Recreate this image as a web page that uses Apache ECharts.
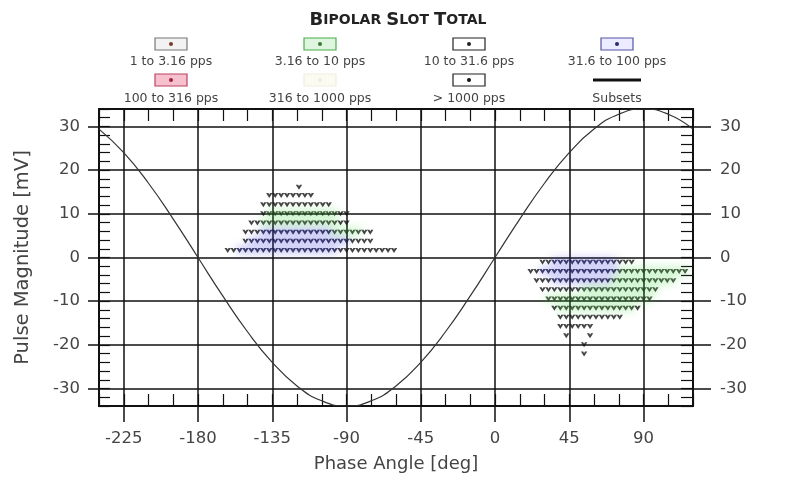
<!DOCTYPE html>
<html><head><meta charset="utf-8">
<script src="https://cdn.jsdelivr.net/npm/echarts@6/dist/echarts.min.js"></script>
<style>html,body{margin:0;padding:0;background:#fff}#c{width:796px;height:478px}</style>
</head><body><div id="c"></div>
<script>
// ---- data ----
const xTickValues = [-225, -180, -135, -90, -45, 0, 45, 90];
const yTickValues = [-30, -20, -10, 0, 10, 20, 30];
const legendNames = ['1 to 3.16 pps', '3.16 to 10 pps', '10 to 31.6 pps', '31.6 to 100 pps',
                     '100 to 316 pps', '316 to 1000 pps', '> 1000 pps', 'Subsets'];

// Subsets curve (phase deg, magnitude mV)
const subsetPhase = [-240,-225,-210,-195,-180,-165,-150,-135,-120,-105,-90,-75,-60,-45,-30,-15,0,15,30,45,60,75,90,105,120];
const subsetMag   = [29.4,24.0,17.0,8.8,0,-8.8,-17.0,-24.0,-29.4,-32.8,-34,-32.8,-29.4,-24.0,-17.0,-8.8,0,8.8,17.0,24.0,29.4,32.8,34,32.8,29.4];

// rows: [magnitude, [phases...]]
const rows10to31 = [
  [16.1, [-118.8]],
  [14.2, [-136.8,-133.2,-129.6,-126,-122.4,-118.8,-115.2,-111.6]],
  [12.1, [-140.4,-136.8,-133.2,-129.6,-126,-122.4,-118.8,-115.2,-111.6,-108,-104.4,-100.8]],
  [10.0, [-140.4,-93.6,-90]],
  [7.9,  [-147.6,-144,-93.6,-90]],
  [5.8,  [-151.2,-147.6,-144,-79.2,-75.6]],
  [3.7,  [-151.2,-86.4,-82.8,-79.2,-75.6]],
  [1.6,  [-162,-158.4,-93.6,-90,-86.4,-82.8,-79.2,-75.6,-72,-68.4,-64.8,-61.2]],
  [-1.1, [28.8,32.4,75.6,79.2,82.8]],
  [-3.2, [21.6,25.2]],
  [-5.3, [25.2,28.8,32.4]],
  [-7.4, [28.8,32.4,36,39.6,43.2,46.8,50.4]],
  [-11.6,[36,86.4]],
  [-13.7,[39.6,43.2,46.8,50.4,54,57.6,61.2,64.8,68.4,72,75.6]],
  [-15.8,[39.6,43.2,46.8,50.4,54,57.6]],
  [-17.9,[43.2,57.6]],
  [-20.0,[54]],
  [-22.1,[54]]
];
const rows3to10 = [
  [10.0, [-136.8,-133.2,-129.6,-126,-122.4,-118.8,-115.2,-111.6,-108,-104.4,-100.8,-97.2]],
  [7.9,  [-140.4,-136.8,-133.2,-129.6,-126,-122.4,-118.8,-115.2,-111.6,-108,-104.4,-100.8,-97.2]],
  [5.8,  [-97.2,-93.6,-90,-86.4,-82.8]],
  [-3.2, [75.6,79.2,82.8,86.4,90,93.6,97.2,100.8,104.4,108,111.6,115.2]],
  [-5.3, [72,75.6,79.2,82.8,86.4,90,93.6,97.2,100.8,104.4,108]],
  [-7.4, [54,57.6,61.2,64.8,68.4,72,75.6,79.2,82.8,86.4,90,93.6,97.2]],
  [-9.5, [32.4,36,39.6,43.2,46.8,50.4,54,57.6,61.2,64.8,68.4,72,75.6,79.2,82.8,86.4,90,93.6]],
  [-11.6,[39.6,43.2,46.8,50.4,54,57.6,61.2,64.8,68.4,72,75.6,79.2,82.8]]
];
const rows31to100 = [
  [5.8,  [-140.4,-136.8,-133.2,-129.6,-126,-122.4,-118.8,-115.2,-111.6,-108,-104.4,-100.8]],
  [3.7,  [-147.6,-144,-140.4,-136.8,-133.2,-129.6,-126,-122.4,-118.8,-115.2,-111.6,-108,-104.4,-100.8,-97.2,-93.6,-90]],
  [1.6,  [-154.8,-151.2,-147.6,-144,-140.4,-136.8,-133.2,-129.6,-126,-122.4,-118.8,-115.2,-111.6,-108,-104.4,-100.8,-97.2]],
  [-1.1, [36,39.6,43.2,46.8,50.4,54,57.6,61.2,64.8,68.4,72]],
  [-3.2, [28.8,32.4,36,39.6,43.2,46.8,50.4,54,57.6,61.2,64.8,68.4,72]],
  [-5.3, [36,39.6,43.2,46.8,50.4,54,57.6,61.2,64.8,68.4]]
];

// ---- build ----
function toPoints(rows){ const out=[]; rows.forEach(r=>r[1].forEach(x=>out.push([x,r[0]]))); return out; }
const subsetData = subsetPhase.map((p,i)=>[p, subsetMag[i]]);

const FONT = 'DejaVu Sans';
const MARK = 'path://M0,0 L2.2,0 L3,1.6 L3.8,0 L6,0 L3,5 Z';
const chart = echarts.init(document.getElementById('c'), null, {renderer:'canvas'});

// legend drawn as graphics (icon above text)
const legendCols = [171, 320, 469, 617];
const legendStyles = [
  {fill:'#f2f2f2', stroke:'#777', dot:'#7a3a2a'},
  {fill:'#dff5df', stroke:'#4cae4c', dot:'#3a7a3a'},
  {fill:'#ffffff', stroke:'#222', dot:'#222'},
  {fill:'#ecebff', stroke:'#5553a8', dot:'#2a2870'},
  {fill:'#f6c1cc', stroke:'#c04060', dot:'#a02040'},
  {fill:'#fbfbf4', stroke:'#eeeedd', dot:'#eeeedd'},
  {fill:'#ffffff', stroke:'#222', dot:'#111'},
  null
];
const graphics = [];
legendNames.forEach((name, i) => {
  const cx = legendCols[i % 4];
  const row = Math.floor(i / 4);
  const by = row === 0 ? 44 : 80;
  const ty = row === 0 ? 62 : 99;
  const st = legendStyles[i];
  if (st) {
    graphics.push({type:'rect', shape:{x:cx-16, y:by-6, width:32, height:12},
      style:{fill:st.fill, stroke:st.stroke, lineWidth:1.2}, z:10});
    graphics.push({type:'circle', shape:{cx:cx, cy:by, r:2}, style:{fill:st.dot}, z:11});
  } else {
    graphics.push({type:'line', shape:{x1:cx-24, y1:by, x2:cx+24, y2:by},
      style:{stroke:'#111', lineWidth:3}, z:10});
  }
  graphics.push({type:'text', x:cx, y:ty, z:10,
    style:{text:name, fill:'#444', font:'12.5px ' + FONT, textAlign:'center', textVerticalAlign:'middle'}});
});

const gridDef = {left:99, right:103, top:109, bottom:70, show:true, borderColor:'#111', borderWidth:2, backgroundColor:'#fff'};
const labelStyle = {color:'#444', fontFamily:FONT, fontSize:16.5};
const noLine = {show:false, onZero:false};

const option = {
  animation:false,
  backgroundColor:'#fff',
  title:{
    text:'{a|B}{b|IPOLAR} {a|S}{b|LOT} {a|T}{b|OTAL}',
    left:'center', top:6,
    textStyle:{rich:{
      a:{fontFamily:FONT, fontWeight:'bold', fontSize:18, color:'#222'},
      b:{fontFamily:FONT, fontWeight:'bold', fontSize:14, color:'#222'}
    }}
  },
  graphic: graphics,
  grid: gridDef,
  xAxis:[
    {type:'value', min:-240, max:120, position:'bottom',
     axisLine:noLine,
     axisTick:{show:true, inside:false, length:16, customValues:xTickValues, lineStyle:{color:'#111', width:1.5}},
     axisLabel:{show:true, customValues:xTickValues, margin:24, ...labelStyle},
     splitLine:{show:true, lineStyle:{color:'#111', width:1.5}},
     name:'Phase Angle [deg]', nameLocation:'middle', nameGap:49,
     nameTextStyle:{color:'#444', fontFamily:FONT, fontSize:18}},
    {type:'value', min:-240, max:120, interval:15, position:'bottom',
     axisLine:noLine, axisLabel:{show:false}, splitLine:{show:false},
     axisTick:{show:true, inside:true, length:12, lineStyle:{color:'#111', width:1.2}}},
    {type:'value', min:-240, max:120, interval:15, position:'top',
     axisLine:noLine, axisLabel:{show:false}, splitLine:{show:false},
     axisTick:{show:true, inside:true, length:12, lineStyle:{color:'#111', width:1.2}}}
  ],
  yAxis:[
    {type:'value', min:-34, max:34, position:'left',
     axisLine:noLine,
     axisTick:{show:true, inside:false, length:11, customValues:yTickValues, lineStyle:{color:'#111', width:1.5}},
     axisLabel:{show:true, customValues:yTickValues, margin:19, ...labelStyle},
     splitLine:{show:true, lineStyle:{color:'#111', width:1.5}},
     name:'Pulse Magnitude [mV]', nameLocation:'middle', nameGap:66,
     nameTextStyle:{color:'#444', fontFamily:FONT, fontSize:19.5}},
    {type:'value', min:-34, max:34, position:'right',
     axisLine:noLine,
     axisTick:{show:true, inside:false, length:18, customValues:yTickValues, lineStyle:{color:'#111', width:1.5}},
     axisLabel:{show:true, customValues:yTickValues, margin:27, ...labelStyle},
     splitLine:{show:false}},
    {type:'value', min:-34, max:34, interval:2, position:'left',
     axisLine:noLine, axisLabel:{show:false}, splitLine:{show:false},
     axisTick:{show:true, inside:true, length:11, lineStyle:{color:'#111', width:1.2}}},
    {type:'value', min:-34, max:34, interval:2, position:'right',
     axisLine:noLine, axisLabel:{show:false}, splitLine:{show:false},
     axisTick:{show:true, inside:true, length:12, lineStyle:{color:'#111', width:1.2}}}
  ],
  series:[
    {name:legendNames[1], type:'scatter', xAxisIndex:0, yAxisIndex:0, data:toPoints(rows3to10),
     symbol:MARK, symbolSize:[6.4,5],
     itemStyle:{color:'#22381e', shadowColor:'rgba(70,215,70,1)', shadowBlur:9}},
    {name:legendNames[3], type:'scatter', xAxisIndex:0, yAxisIndex:0, data:toPoints(rows31to100),
     symbol:MARK, symbolSize:[6.4,5],
     itemStyle:{color:'#141446', shadowColor:'rgba(60,60,225,1)', shadowBlur:8}},
    {name:legendNames[2], type:'scatter', xAxisIndex:0, yAxisIndex:0, data:toPoints(rows10to31),
     symbol:MARK, symbolSize:[6.4,5],
     itemStyle:{color:'#151515'}},
    {name:legendNames[7], type:'line', xAxisIndex:0, yAxisIndex:0, data:subsetData,
     smooth:true, showSymbol:false, symbol:'none',
     lineStyle:{color:'#333', width:1.2}, z:3}
  ]
};
chart.setOption(option);
</script>
</body></html>
